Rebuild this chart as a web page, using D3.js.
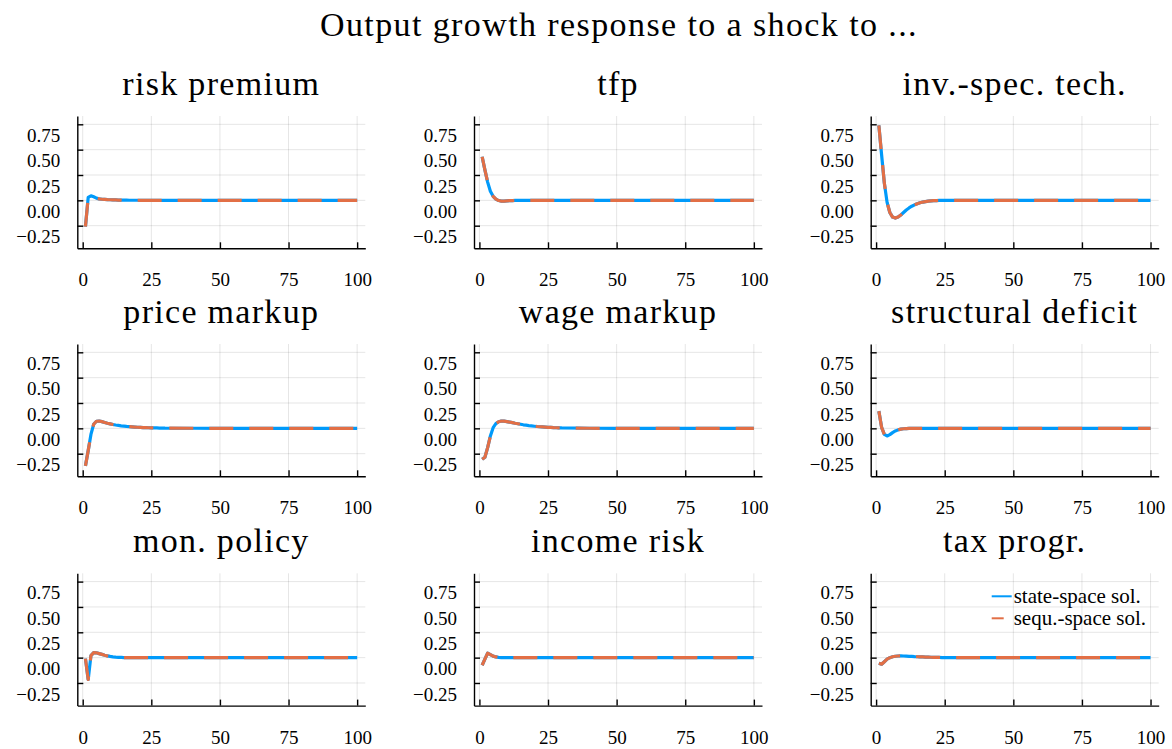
<!DOCTYPE html>
<html>
<head>
<meta charset="utf-8">
<script src="https://cdn.jsdelivr.net/npm/d3@7"></script>
<style>
	body { margin: 0; background: #fff; }
	text { font-family: "Liberation Serif", "Times New Roman", serif; fill: #000; }
</style>
</head>
<body>
<div id="chart"></div>
<script>
// horizon: periods 1..30 then a sparse flat tail
var horizon = d3.range(1, 31).concat([40, 50, 60, 70, 80, 90, 100]);

// impulse responses of output growth
var riskPremium   = [-0.26, 0.03, 0.045, 0.035, 0.022, 0.015, 0.011, 0.009, 0.007, 0.006, 0.005, 0.004, 0.003, 0.003, 0.002, 0.002, 0.001, 0.001, 0.001, 0.001, 0, 0, 0, 0, 0, 0, 0, 0, 0, 0, 0, 0, 0, 0, 0, 0, 0];
var tfp           = [0.43, 0.30, 0.18, 0.09, 0.04, 0.012, -0.002, -0.007, -0.007, -0.005, -0.003, -0.002, -0.001, 0, 0, 0, 0, 0, 0, 0, 0, 0, 0, 0, 0, 0, 0, 0, 0, 0, 0, 0, 0, 0, 0, 0, 0];
var invSpecTech   = [0.74, 0.45, 0.17, -0.02, -0.12, -0.165, -0.175, -0.165, -0.145, -0.12, -0.095, -0.075, -0.058, -0.044, -0.033, -0.024, -0.017, -0.012, -0.008, -0.005, -0.003, -0.002, -0.001, 0, 0, 0, 0, 0, 0, 0, 0, 0, 0, 0, 0, 0, 0];
var priceMarkup   = [-0.37, -0.22, -0.06, 0.04, 0.07, 0.072, 0.066, 0.058, 0.05, 0.044, 0.038, 0.033, 0.029, 0.025, 0.022, 0.019, 0.017, 0.015, 0.013, 0.011, 0.01, 0.008, 0.007, 0.006, 0.005, 0.004, 0.004, 0.003, 0.003, 0.002, 0.001, 0, 0, 0, 0, 0, 0];
var wageMarkup    = [-0.305, -0.285, -0.19, -0.075, 0.007, 0.046, 0.065, 0.072, 0.071, 0.067, 0.062, 0.056, 0.05, 0.045, 0.04, 0.035, 0.031, 0.027, 0.024, 0.021, 0.018, 0.016, 0.014, 0.012, 0.01, 0.009, 0.007, 0.006, 0.005, 0.004, 0.001, 0, 0, 0, 0, 0, 0];
var structDeficit = [0.17, 0.01, -0.06, -0.075, -0.062, -0.042, -0.026, -0.015, -0.008, -0.004, -0.002, -0.001, 0, 0, 0, 0, 0, 0, 0, 0, 0, 0, 0, 0, 0, 0, 0, 0, 0, 0, 0, 0, 0, 0, 0, 0, 0];
var monPolicy     = [-0.01, -0.215, 0.02, 0.05, 0.048, 0.04, 0.032, 0.024, 0.017, 0.012, 0.008, 0.005, 0.003, 0.002, 0.001, 0, 0, 0, 0, 0, 0, 0, 0, 0, 0, 0, 0, 0, 0, 0, 0, 0, 0, 0, 0, 0, 0];
var incomeRisk    = [-0.075, -0.015, 0.045, 0.03, 0.015, 0.007, 0.003, 0.001, 0, 0, 0, 0, 0, 0, 0, 0, 0, 0, 0, 0, 0, 0, 0, 0, 0, 0, 0, 0, 0, 0, 0, 0, 0, 0, 0, 0, 0];
var taxProgr      = [-0.055, -0.065, -0.04, -0.015, 0, 0.009, 0.014, 0.016, 0.017, 0.016, 0.015, 0.013, 0.012, 0.01, 0.009, 0.008, 0.007, 0.006, 0.005, 0.004, 0.003, 0.002, 0.002, 0.001, 0, 0, 0, 0, 0, 0, 0, 0, 0, 0, 0, 0, 0];

var shockTitles = ["risk premium", "tfp", "inv.-spec. tech.", "price markup", "wage markup",
	"structural deficit", "mon. policy", "income risk", "tax progr."];
// state-space and sequence-space solutions coincide in the figure
var stateSpace = [riskPremium, tfp, invSpecTech, priceMarkup, wageMarkup, structDeficit, monPolicy, incomeRisk, taxProgr];
var sequSpace  = [riskPremium, tfp, invSpecTech, priceMarkup, wageMarkup, structDeficit, monPolicy, incomeRisk, taxProgr];

var seriesNames = ["state-space sol.", "sequ.-space sol."];
var xTicks = [0, 25, 50, 75, 100];
var yTicks = [-0.25, 0, 0.25, 0.5, 0.75];
var yLimits = [-0.473, 0.832];

// layout
var width = 1172, height = 749;
var colLeft = [77.3, 474, 870.7];
var rowTop = [116, 344, 573.3];
var plotW = 288, plotH = 132.3;
var blue = "#009AFA", orange = "#E26F46";

var svg = d3.select("#chart").append("svg")
	.attr("width", width)
	.attr("height", height);

svg.append("text")
	.attr("x", 619)
	.attr("y", 36)
	.attr("text-anchor", "middle")
	.style("font-size", "34px")
	.style("letter-spacing", "1.4px")
	.text("Output growth response to a shock to ...");

// x range widened by 3% on each side, like Plots.jl
var xExt = d3.extent(horizon);
var pad = (xExt[1] - xExt[0]) * 0.03;
var x = d3.scaleLinear().domain([xExt[0] - pad, xExt[1] + pad]).range([0, plotW]);
var y = d3.scaleLinear().domain(yLimits).range([plotH, 0]);

var line = d3.line()
	.x(function(d) { return x(d[0]); })
	.y(function(d) { return y(d[1]); });

shockTitles.forEach(function(title, i) {
	var g = svg.append("g")
		.attr("transform", "translate(" + colLeft[i % 3] + "," + rowTop[Math.floor(i / 3)] + ")");

	// grid
	g.append("g").selectAll("line.gx")
		.data(xTicks).enter().append("line")
		.attr("x1", function(d) { return x(d); })
		.attr("x2", function(d) { return x(d); })
		.attr("y1", 0).attr("y2", plotH)
		.attr("stroke", "#000").attr("stroke-opacity", 0.1).attr("stroke-width", 1);
	g.append("g").selectAll("line.gy")
		.data(yTicks).enter().append("line")
		.attr("x1", 0).attr("x2", plotW)
		.attr("y1", function(d) { return y(d); })
		.attr("y2", function(d) { return y(d); })
		.attr("stroke", "#000").attr("stroke-opacity", 0.1).attr("stroke-width", 1);

	// lines
	var stateData = horizon.map(function(h, k) { return [h, stateSpace[i][k]]; });
	var sequData = horizon.map(function(h, k) { return [h, sequSpace[i][k]]; });
	g.append("path")
		.attr("d", line(stateData))
		.attr("fill", "none")
		.attr("stroke", blue)
		.attr("stroke-width", 3.2)
		.attr("stroke-linejoin", "round");
	g.append("path")
		.attr("d", line(sequData))
		.attr("fill", "none")
		.attr("stroke", orange)
		.attr("stroke-width", 3.2)
		.attr("stroke-linejoin", "round")
		.attr("stroke-dasharray", "24,16");

	// axes
	var xAxis = g.append("g")
		.attr("transform", "translate(0," + plotH + ")")
		.call(d3.axisBottom(x).tickValues(xTicks).tickSize(-6).tickSizeOuter(0));
	xAxis.selectAll("text")
		.attr("y", 38).attr("dy", 0)
		.style("font-size", "19px")
		.style("font-family", "Liberation Serif");

	var yAxis = g.append("g")
		.call(d3.axisLeft(y).tickValues(yTicks).tickSize(-6).tickSizeOuter(0).tickPadding(17)
			.tickFormat(d3.format(".2f")));
	yAxis.selectAll("text")
		.attr("y", 11)
		.style("font-size", "19px")
		.style("font-family", "Liberation Serif");

	g.selectAll(".domain, .tick line").attr("stroke", "#000").attr("stroke-width", 1.4);

	// subplot title
	g.append("text")
		.attr("x", plotW / 2)
		.attr("y", -21)
		.attr("text-anchor", "middle")
		.style("font-size", "34px")
		.style("letter-spacing", "1.3px")
		.text(title);

	// legend on the last panel
	if (i === 8) {
		var leg = g.append("g").attr("transform", "translate(" + (plotW - 167) + ",23)");
		seriesNames.forEach(function(name, j) {
			leg.append("line")
				.attr("x1", 0).attr("x2", 20)
				.attr("y1", j * 22).attr("y2", j * 22)
				.attr("stroke", j === 0 ? blue : orange)
				.attr("stroke-width", 2)
				.attr("stroke-dasharray", j === 0 ? null : "12,8");
			leg.append("text")
				.attr("x", 22)
				.attr("y", j * 22 + 7)
				.style("font-size", "21px")
				.text(name);
		});
	}
});
</script>
</body>
</html>
